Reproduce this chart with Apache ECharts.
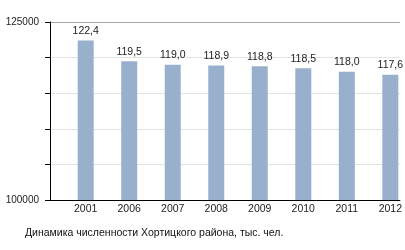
<!DOCTYPE html>
<html>
<head>
<meta charset="utf-8">
<script src="https://cdn.jsdelivr.net/npm/echarts@6/dist/echarts.min.js"></script>
<style>
html,body{margin:0;padding:0;background:#fff;}
#c{width:405px;height:250px;}
</style>
</head>
<body>
<div id="c"></div>
<script>
var years = ['2001','2006','2007','2008','2009','2010','2011','2012'];
var populationThousands = [122.4, 119.5, 119.0, 118.9, 118.8, 118.5, 118.0, 117.6];
var yTickLabels = [100000, 125000];
var caption = 'Динамика численности Хортицкого района, тыс. чел.';

var font = '"Liberation Sans", Arial, sans-serif';
var chart = echarts.init(document.getElementById('c'), null, {renderer: 'canvas'});
var seriesData = populationThousands.map(function (v, i) { return [i, v * 1000]; });
var idx = years.map(function (y, i) { return i; });

chart.setOption({
  animation: false,
  backgroundColor: '#fff',
  grid: {left: 50, right: 2, top: 22, bottom: 50, containLabel: false},
  title: {
    text: caption, left: 20, top: 223,
    textStyle: {fontFamily: font, fontSize: 10.5, fontWeight: 'normal', color: '#111'}
  },
  xAxis: {
    type: 'value', min: -0.82, max: 7.22,
    axisLine: {show: true, onZero: false, lineStyle: {color: '#000', width: 1}},
    axisTick: {show: false},
    splitLine: {show: false},
    axisLabel: {
      customValues: idx, margin: 4,
      fontFamily: font, fontSize: 10.5, color: '#222',
      formatter: function (v) { return years[Math.round(v)] || ''; }
    }
  },
  yAxis: {
    type: 'value', min: 100000, max: 125000, interval: 5000,
    axisLine: {show: true, onZero: false, lineStyle: {color: '#000', width: 1}},
    axisTick: {show: true, length: 5, lineStyle: {color: '#000'}},
    splitLine: {show: true, lineStyle: {color: ['#e2e2e2','#e2e2e2','#e2e2e2','#e2e2e2','#e2e2e2','#a8a8a8'], width: 1}},
    axisLabel: {
      margin: 11, fontFamily: font, fontSize: 10, color: '#222',
      formatter: function (v) { return yTickLabels.indexOf(v) >= 0 ? String(v) : ''; }
    }
  },
  series: [{
    type: 'bar',
    data: seriesData,
    barWidth: 16,
    itemStyle: {color: '#98b0cb'},
    label: {
      show: true, position: 'top', distance: 4,
      fontFamily: font, fontSize: 10.5, color: '#222',
      formatter: function (p) { return (p.value[1] / 1000).toFixed(1).replace('.', ','); }
    }
  }]
});
</script>
</body>
</html>
